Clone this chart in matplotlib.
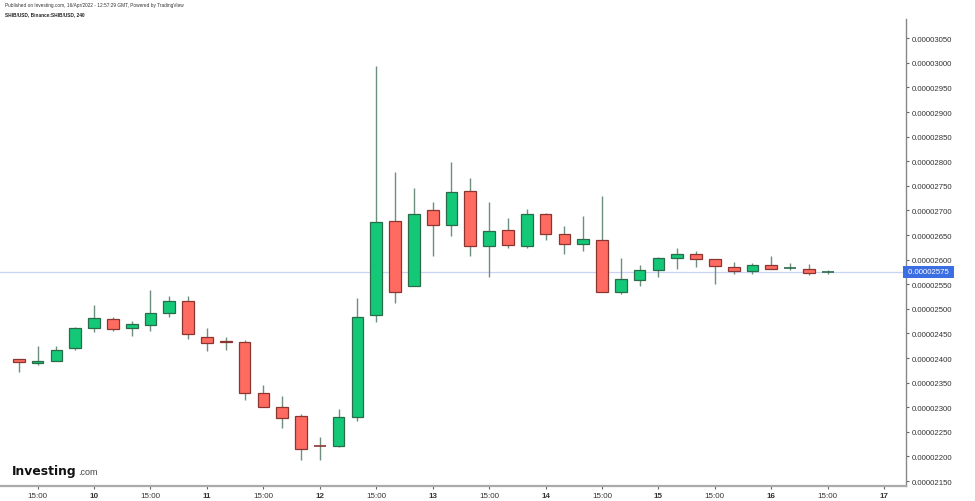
import matplotlib
matplotlib.use("Agg")
import matplotlib.pyplot as plt
from matplotlib.patches import Rectangle

plt.rcParams['font.family'] = ['Liberation Sans', 'DejaVu Sans']

# Values in units of 1e-8 USD (SHIB/USD, 4h candles)
opens  = [2398, 2390, 2394, 2421, 2461, 2480, 2461, 2467, 2492, 2515,
          2442, 2435, 2432, 2329, 2300, 2282, 2222, 2221, 2281, 2488,
          2679, 2547, 2700, 2671, 2740, 2627, 2660, 2627, 2693, 2653,
          2631, 2639, 2535, 2559, 2579, 2604, 2612, 2601, 2586, 2576,
          2590, 2583, 2581, 2575]
highs  = [2399, 2425, 2424, 2464, 2508, 2483, 2475, 2539, 2526, 2526,
          2462, 2443, 2437, 2345, 2322, 2286, 2240, 2296, 2522, 2994,
          2778, 2745, 2718, 2798, 2765, 2717, 2684, 2702, 2694, 2668,
          2688, 2730, 2603, 2589, 2605, 2623, 2618, 2602, 2595, 2593,
          2607, 2593, 2591, 2578]
lows   = [2371, 2386, 2394, 2416, 2452, 2454, 2444, 2454, 2483, 2439,
          2414, 2416, 2315, 2300, 2258, 2192, 2192, 2219, 2273, 2473,
          2511, 2546, 2608, 2648, 2608, 2565, 2623, 2623, 2640, 2612,
          2618, 2534, 2530, 2547, 2565, 2580, 2585, 2550, 2570, 2570,
          2580, 2579, 2568, 2570]
closes = [2392, 2393, 2417, 2461, 2481, 2459, 2469, 2491, 2515, 2448,
          2431, 2432, 2329, 2301, 2278, 2215, 2221, 2281, 2484, 2677,
          2535, 2693, 2671, 2737, 2627, 2658, 2630, 2692, 2652, 2631,
          2641, 2535, 2561, 2579, 2604, 2612, 2601, 2587, 2576, 2589,
          2581, 2583, 2573, 2575]

tick_positions = [1, 4, 7, 10, 13, 16, 19, 22, 25, 28, 31, 34, 37, 40, 43, 46]
tick_labels = ["15:00", "10", "15:00", "11", "15:00", "12", "15:00", "13",
               "15:00", "14", "15:00", "15", "15:00", "16", "15:00", "17"]
y_ticks = list(range(2150, 3051, 50))
last_price = 2575

SCALE = 1e-8
GREEN = "#13c877"
RED = "#ff6b61"
GREEN_EDGE = "#2a6b49"
RED_EDGE = "#8a3530"
WICK = "#6e8f7d"

fig = plt.figure(figsize=(9.75, 5.02), dpi=100)
ax = fig.add_axes([0.0, (502 - 487) / 502, 906 / 975, (487 - 20) / 502])

width = 0.62
for i, (o, h, l, c) in enumerate(zip(opens, highs, lows, closes)):
    up = c >= o
    face = GREEN if up else RED
    edge = GREEN_EDGE if up else RED_EDGE
    ax.vlines(i, l * SCALE, h * SCALE, color=WICK, linewidth=1.0, zorder=2)
    lo_b, hi_b = min(o, c), max(o, c)
    if hi_b - lo_b < 1.5:
        ax.hlines(o * SCALE, i - width / 2, i + width / 2, color=edge, linewidth=1.2, zorder=3)
    else:
        ax.add_patch(Rectangle((i - width / 2, lo_b * SCALE), width, (hi_b - lo_b) * SCALE,
                               facecolor=face, edgecolor=edge, linewidth=0.9, zorder=3))

ax.axhline(last_price * SCALE, color="#c9d3f5", linewidth=0.9, zorder=1)

ax.set_xlim(-1.0, 47.16)
ax.set_ylim(2140 * SCALE, 3089 * SCALE)

ax.yaxis.tick_right()
ax.set_yticks([v * SCALE for v in y_ticks])
ax.set_yticklabels([f"{v * SCALE:.8f}" for v in y_ticks])
ax.set_xticks(tick_positions)
ax.set_xticklabels(tick_labels)
for lbl, t in zip(ax.get_xticklabels(), tick_labels):
    if ":" not in t:
        lbl.set_fontweight("bold")
ax.tick_params(axis="y", labelsize=5.6, colors="#666666", length=2.5, width=0.8, pad=2, labelcolor="#333333")
ax.tick_params(axis="x", labelsize=5.8, colors="#666666", length=2.5, width=0.8, pad=1.5, labelcolor="#333333")

for s in ["top", "left"]:
    ax.spines[s].set_visible(False)
ax.spines["right"].set_color("#888888")
ax.spines["bottom"].set_color("#aaaaaa")
ax.spines["right"].set_linewidth(1.0)
ax.spines["bottom"].set_linewidth(1.6)

# Last price label on axis
ax.text(1.0, last_price * SCALE, f" {last_price * SCALE:.8f} ", transform=ax.get_yaxis_transform(),
        ha="left", va="center", fontsize=5.6, color="white", zorder=10, clip_on=False,
        bbox=dict(boxstyle="square,pad=0.35", facecolor="#3c6ee3", edgecolor="none"))

# Header
fig.text(5 / 975, 1 - 6 / 502, "Published on Investing.com, 16/Apr/2022 - 12:57:29 GMT, Powered by TradingView",
         fontsize=3.4, color="#333333", va="center", ha="left")
fig.text(5 / 975, 1 - 14.5 / 502, "SHIB/USD, Binance:SHIB/USD, 240",
         fontsize=3.4, color="#222222", fontweight="bold", va="center", ha="left")

# Logo
fig.text(12 / 975, 1 - 475 / 502, "Investing", fontsize=8.9, fontweight="bold", color="#111111",
         va="baseline", ha="left", family="DejaVu Sans")
fig.text(78 / 975, 1 - 475 / 502, ".com", fontsize=6.5, color="#444444", va="baseline", ha="left")

fig.savefig("out.png", dpi=100, facecolor="white")
